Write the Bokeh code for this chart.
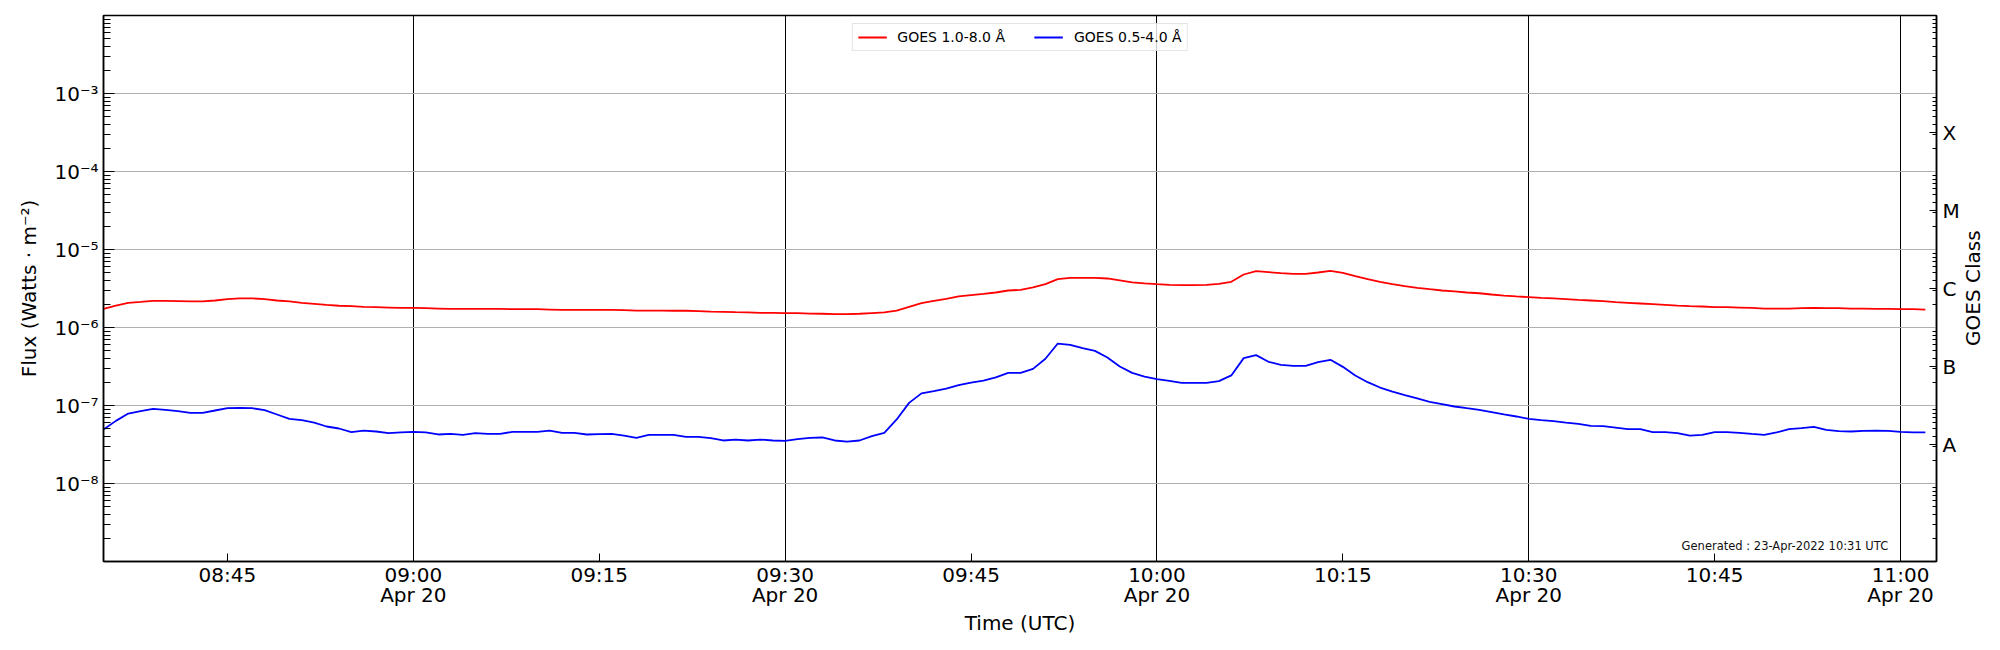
import math
import datetime as dt
from bokeh.plotting import figure
from bokeh.layouts import row
from bokeh.models import (LogAxis, FixedTicker, CustomJSTickFormatter, Legend,
                          LegendItem, Label, Range1d, ColumnDataSource, Div)
from bokeh.embed import file_html
from bokeh.resources import INLINE

# ---------------- data (1-minute GOES XRS averages, 2022-04-20 from 08:35 UTC) -------------
start_time = dt.datetime(2022, 4, 20, 8, 35)
cadence_min = 1

# 1.0-8.0 Angstrom channel, in units of 1e-6 W m^-2
xrsb_e6 = [
    1.73, 1.91, 2.07, 2.13, 2.20, 2.20, 2.18, 2.16, 2.16, 2.22,
    2.31, 2.36, 2.36, 2.31, 2.22, 2.16, 2.07, 2.01, 1.95, 1.90,
    1.88, 1.84, 1.82, 1.80, 1.78, 1.78, 1.77, 1.75, 1.73, 1.73,
    1.73, 1.73, 1.73, 1.72, 1.72, 1.72, 1.70, 1.68, 1.68, 1.68,
    1.68, 1.68, 1.67, 1.65, 1.65, 1.65, 1.64, 1.64, 1.62, 1.60,
    1.59, 1.57, 1.56, 1.54, 1.54, 1.53, 1.53, 1.51, 1.50, 1.48,
    1.48, 1.50, 1.53, 1.56, 1.65, 1.84, 2.05, 2.20, 2.33, 2.50,
    2.60, 2.70, 2.81, 2.98, 3.04, 3.26, 3.59, 4.17, 4.33, 4.33,
    4.33, 4.25, 4.01, 3.78, 3.67, 3.59, 3.52, 3.49, 3.49, 3.52,
    3.63, 3.85, 4.78, 5.27, 5.12, 4.97, 4.88, 4.88, 5.07, 5.33,
    5.02, 4.55, 4.17, 3.85, 3.59, 3.39, 3.23, 3.10, 2.98, 2.90,
    2.81, 2.75, 2.65, 2.57, 2.50, 2.45, 2.40, 2.36, 2.31, 2.26,
    2.22, 2.18, 2.11, 2.07, 2.03, 1.99, 1.95, 1.91, 1.88, 1.86,
    1.82, 1.82, 1.80, 1.78, 1.75, 1.75, 1.75, 1.77, 1.78, 1.77,
    1.77, 1.75, 1.75, 1.73, 1.73, 1.72, 1.72, 1.70,
]

# 0.5-4.0 Angstrom channel, in units of 1e-8 W m^-2
xrsa_e8 = [
    4.92, 6.35, 7.89, 8.46, 9.06, 8.81, 8.46, 8.05, 8.05, 8.63,
    9.24, 9.33, 9.24, 8.71, 7.67, 6.75, 6.49, 6.05, 5.38, 5.07,
    4.55, 4.77, 4.64, 4.42, 4.51, 4.60, 4.51, 4.25, 4.33, 4.21,
    4.42, 4.33, 4.33, 4.60, 4.60, 4.60, 4.77, 4.47, 4.47, 4.25,
    4.29, 4.33, 4.12, 3.85, 4.21, 4.21, 4.21, 3.97, 3.97, 3.81,
    3.56, 3.66, 3.56, 3.66, 3.56, 3.52, 3.70, 3.85, 3.89, 3.56,
    3.45, 3.56, 4.04, 4.47, 6.62, 10.8, 14.3, 15.3, 16.5, 18.2,
    19.7, 20.9, 22.9, 26.2, 26.2, 29.5, 39.7, 62.3, 60.0, 54.3,
    50.2, 41.2, 31.6, 26.2, 23.5, 21.8, 20.7, 19.5, 19.5, 19.5,
    20.5, 24.3, 40.5, 44.2, 36.3, 33.2, 32.3, 32.3, 35.9, 38.5,
    31.3, 24.3, 19.9, 17.0, 15.1, 13.6, 12.3, 11.1, 10.4, 9.71,
    9.24, 8.80, 8.22, 7.67, 7.23, 6.75, 6.49, 6.30, 6.05, 5.82,
    5.48, 5.43, 5.22, 4.97, 4.97, 4.55, 4.55, 4.42, 4.12, 4.21,
    4.55, 4.55, 4.47, 4.33, 4.21, 4.51, 4.97, 5.12, 5.32, 4.88,
    4.69, 4.64, 4.73, 4.77, 4.73, 4.60, 4.51, 4.51,
]

labels = ["GOES 1.0-8.0 Å", "GOES 0.5-4.0 Å"]
colors = ["red", "blue"]
flux_decades = [-8, -7, -6, -5, -4, -3]
goes_classes = ["A", "B", "C", "M", "X"]
goes_class_centers = [-7.5, -6.5, -5.5, -4.5, -3.5]   # log10 flux of class label
date_label = "Apr 20"
generated_text = "Generated : 23-Apr-2022 10:31 UTC"
x_label = "Time (UTC)"
y_label = "Flux (Watts · m⁻²)"
y2_label = "GOES Class"

# ---------------- derived ----------------
times = [start_time + dt.timedelta(minutes=cadence_min * i) for i in range(len(xrsb_e6))]
xrsb = [v * 1e-6 for v in xrsb_e6]
xrsa = [v * 1e-8 for v in xrsa_e8]
src = ColumnDataSource(dict(t=times, b=xrsb, a=xrsa))

epoch = dt.datetime(1970, 1, 1)
def ms(d):
    return (d - epoch).total_seconds() * 1000.0

x_start = start_time
x_end = start_time + dt.timedelta(minutes=147.9)
y_lo, y_hi = 1e-9, 1e-2
tick15 = [ms(dt.datetime(2022, 4, 20, 8, 45) + dt.timedelta(minutes=15 * k)) for k in range(10)]
tick30 = [ms(dt.datetime(2022, 4, 20, 9, 0) + dt.timedelta(minutes=30 * k)) for k in range(5)]

major_y = [10.0 ** e for e in flux_decades]
minor_y = [k * 10.0 ** e for e in range(-9, -2) for k in range(2, 10)]
class_ticks = [10.0 ** c for c in goes_class_centers]

FONT = "DejaVu Sans"
W, H = 1962, 645
BL, BR, BT, BB = 103, 25, 15, 84
frame_h = H - BT - BB
DIV_W = 30

p = figure(width=W, height=H, output_backend="svg", toolbar_location=None,
           x_axis_type="datetime", y_axis_type="log",
           x_range=Range1d(x_start, x_end), y_range=Range1d(y_lo, y_hi),
           min_border_left=BL, min_border_right=BR, min_border_top=BT, min_border_bottom=BB,
           background_fill_color="white", border_fill_color="white")

p.outline_line_color = "black"
p.outline_line_width = 1.5
p.outline_line_alpha = 1.0

# x axis
xa = p.xaxis[0]
xa.ticker = FixedTicker(ticks=tick15)
xa.formatter = CustomJSTickFormatter(args=dict(date_label=date_label), code="""
    const d = new Date(tick);
    const hh = String(d.getUTCHours()).padStart(2, '0');
    const mm = String(d.getUTCMinutes()).padStart(2, '0');
    let s = hh + ':' + mm;
    if (d.getUTCMinutes() % 30 == 0) { s += '\\n' + date_label; }
    return s;
""")
xa.axis_label = x_label

# left y axis
ya = p.yaxis[0]
ya.ticker = FixedTicker(ticks=major_y, minor_ticks=minor_y)
ya.formatter = CustomJSTickFormatter(code="""
    const e = Math.round(Math.log10(tick));
    const sup = {'-': '\u207b', '0': '\u2070', '1': '\u00b9', '2': '\u00b2', '3': '\u00b3',
                 '4': '\u2074', '5': '\u2075', '6': '\u2076', '7': '\u2077', '8': '\u2078', '9': '\u2079'};
    return '10' + String(e).split('').map(c => sup[c]).join('');
""")
ya.axis_label = y_label

# right (GOES class) axis
ra = LogAxis(ticker=FixedTicker(ticks=class_ticks, minor_ticks=minor_y),
             formatter=CustomJSTickFormatter(args=dict(classes=goes_classes), code="""
    const i = Math.round(Math.log10(tick) + 7.5);
    return classes[i];
"""))
p.add_layout(ra, "right")

for ax in (xa, ya, ra):
    ax.axis_line_color = "black"
    ax.axis_line_width = 1.5
    ax.major_tick_line_color = "black"
    ax.minor_tick_line_color = "black"
    ax.major_tick_out = 0
    ax.minor_tick_out = 0
    ax.major_label_text_font = FONT
    ax.major_label_text_font_size = "20px"
    ax.major_label_text_color = "black"
    ax.axis_label_text_font = FONT
    ax.axis_label_text_font_size = "20px"
    ax.axis_label_text_font_style = "normal"
    ax.axis_label_text_color = "black"

xa.major_tick_in = 8
xa.minor_tick_in = 0
xa.major_label_standoff = 1
xa.major_label_text_line_height = 0.86
xa.axis_label_standoff = 1
ya.major_tick_in = 11
ya.minor_tick_in = 7
ya.major_label_standoff = 5
ya.axis_label_standoff = 10
ra.major_tick_in = 7
ra.minor_tick_in = 4
ra.major_label_standoff = 6

# grids
p.xgrid.ticker = FixedTicker(ticks=tick30)
p.xgrid.grid_line_color = "black"
p.xgrid.grid_line_alpha = 1.0
p.xgrid.grid_line_width = 1.0
p.ygrid.ticker = FixedTicker(ticks=major_y)
p.ygrid.grid_line_color = "#b0b0b0"
p.ygrid.grid_line_alpha = 1.0
p.ygrid.grid_line_width = 1.2

# curves
r1 = p.line("t", "b", source=src, color=colors[0], line_width=1.8)
r2 = p.line("t", "a", source=src, color=colors[1], line_width=1.8)

legend = Legend(items=[LegendItem(label=labels[0], renderers=[r1]),
                       LegendItem(label=labels[1], renderers=[r2])],
                location="top_center", orientation="horizontal",
                label_text_font=FONT, label_text_font_size="14px", label_text_color="black",
                glyph_width=29, glyph_height=14, label_standoff=11, spacing=29,
                padding=5, margin=8, border_line_color="#cccccc", border_line_width=1,
                background_fill_alpha=0.8)
p.add_layout(legend)

p.add_layout(Label(x=dt.datetime(2022, 4, 20, 10, 59), y=1.6e-9, text=generated_text,
                   text_align="right", text_baseline="alphabetic",
                   text_font=FONT, text_font_size="11.5px", text_color="#111111"))

# "GOES Class" title of the right axis, reading bottom-to-top, centred on the frame
y2_title = Div(
    text=(f'<div style="writing-mode: vertical-rl; transform: rotate(180deg); '
          f'height: {frame_h}px; margin-top: {BT}px; text-align: center; '
          f'font-family: \'{FONT}\'; font-size: 20px; line-height: 23px; '
          f'color: black; white-space: nowrap;">{y2_label}</div>'),
    width=DIV_W, height=H, margin=0)

layout = row(p, y2_title, spacing=0)

open("out.html", "w").write(file_html(layout, INLINE))
